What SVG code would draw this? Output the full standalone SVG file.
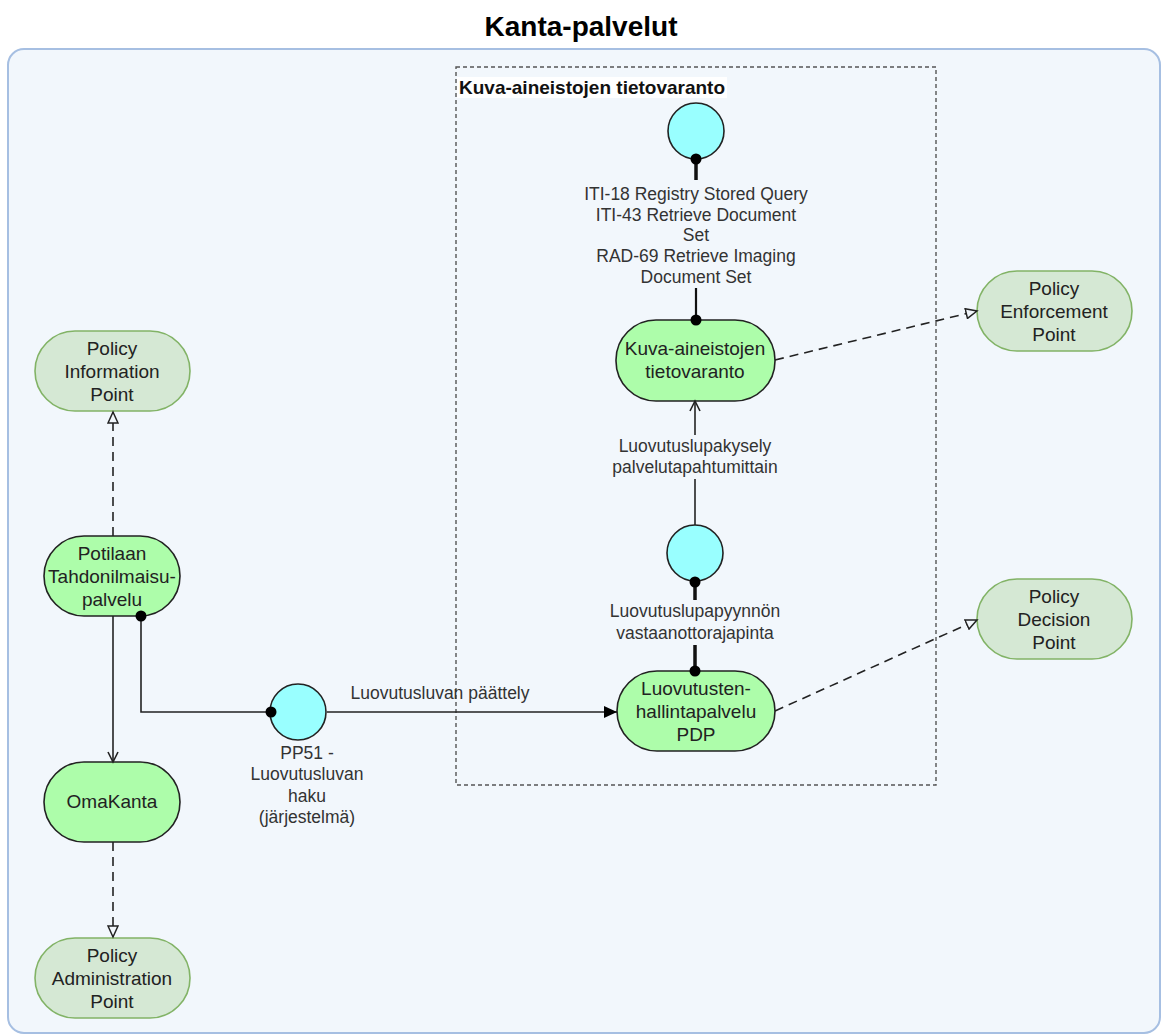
<svg xmlns="http://www.w3.org/2000/svg" width="1163" height="1034" viewBox="0 0 1163 1034">
<defs>
<style>
text{font-family:"Liberation Sans",Arial,Helvetica,sans-serif}
.node{fill:#adfdaa;stroke:#222;stroke-width:1.6}
.pol{fill:#d5e8d4;stroke:#82b366;stroke-width:1.6}
.if{fill:#99ffff;stroke:#222;stroke-width:1.6}
.nt{font-size:19px;fill:#222;text-anchor:middle}
.el{font-size:17.5px;fill:#333;text-anchor:middle}
.ln{stroke:#222;stroke-width:1.6;fill:none}
.thick{stroke:#111;stroke-width:3.5;fill:none}
.med{stroke:#111;stroke-width:2.2;fill:none}
.dash{stroke:#222;stroke-width:1.6;fill:none;stroke-dasharray:9 6}
.dot{fill:#000}
</style>
<marker id="tri" markerWidth="14" markerHeight="12" refX="12" refY="6" orient="auto" markerUnits="userSpaceOnUse"><path d="M1,1 L12,6 L1,11 Z" fill="#f2f7fc" stroke="#222" stroke-width="1.5"/></marker>
<marker id="open" markerWidth="14" markerHeight="12" refX="11" refY="6" orient="auto" markerUnits="userSpaceOnUse"><path d="M1,1 L11,6 L1,11" fill="none" stroke="#222" stroke-width="1.6"/></marker>
<marker id="blk" markerWidth="14" markerHeight="12" refX="13" refY="6" orient="auto" markerUnits="userSpaceOnUse"><path d="M0,0 L13,6 L0,12 Z" fill="#000"/></marker>
</defs>
<rect width="1163" height="1034" fill="#ffffff"/>
<text x="581" y="36" text-anchor="middle" font-size="28" font-weight="bold" fill="#000">Kanta-palvelut</text>
<rect id="container" x="8" y="49" width="1152" height="984" rx="16" fill="#f2f7fc" stroke="#a6bfe2" stroke-width="2"/>
<g id="group-kuva">
<rect x="456" y="67" width="480" height="718" fill="none" stroke="#555" stroke-width="1.4" stroke-dasharray="4 3"/>
<rect x="457" y="77" width="270" height="21" fill="#ffffff"/>
<text x="459" y="94" font-size="19" font-weight="bold" fill="#111">Kuva-aineistojen tietovaranto</text>
</g>
<g id="if-top"><circle class="if" cx="696" cy="131" r="28"/></g>
<g id="if-mid"><circle class="if" cx="695" cy="553" r="28"/></g>
<g id="if-pp51"><circle class="if" cx="298" cy="712" r="28"/></g>
<g id="kuva-node"><rect class="node" x="616" y="320" width="159" height="81" rx="40"/>
<text class="nt" x="695" y="355">Kuva-aineistojen</text><text class="nt" x="695" y="378">tietovaranto</text></g>
<g id="pdp-node"><rect class="node" x="617" y="671" width="158" height="80" rx="40"/>
<text class="nt" x="696" y="695">Luovutusten-</text><text class="nt" x="696" y="718">hallintapalvelu</text><text class="nt" x="696" y="741">PDP</text></g>
<g id="potilaan"><rect class="node" x="44" y="536" width="136" height="80" rx="40"/>
<text class="nt" x="112" y="560">Potilaan</text><text class="nt" x="112" y="583">Tahdonilmaisu-</text><text class="nt" x="112" y="606">palvelu</text></g>
<g id="omakanta"><rect class="node" x="44" y="762" width="136" height="80" rx="40"/>
<text class="nt" x="112" y="808">OmaKanta</text></g>
<g id="pip"><rect class="pol" x="35" y="331" width="155" height="80" rx="40"/>
<text class="nt" x="112" y="355">Policy</text><text class="nt" x="112" y="378">Information</text><text class="nt" x="112" y="401">Point</text></g>
<g id="pap"><rect class="pol" x="35" y="938" width="155" height="80" rx="40"/>
<text class="nt" x="112" y="962">Policy</text><text class="nt" x="112" y="985">Administration</text><text class="nt" x="112" y="1008">Point</text></g>
<g id="pep"><rect class="pol" x="977" y="271" width="155" height="80" rx="40"/>
<text class="nt" x="1054" y="295">Policy</text><text class="nt" x="1054" y="318">Enforcement</text><text class="nt" x="1054" y="341">Point</text></g>
<g id="pdpol"><rect class="pol" x="977" y="579" width="155" height="80" rx="40"/>
<text class="nt" x="1054" y="603">Policy</text><text class="nt" x="1054" y="626">Decision</text><text class="nt" x="1054" y="649">Point</text></g>
<g id="connectors">
<line class="thick" x1="696" y1="160" x2="696" y2="180"/>
<line class="med" x1="696" y1="288" x2="696" y2="320"/>
<circle class="dot" cx="696" cy="159" r="5.5"/>
<circle class="dot" cx="696" cy="320" r="5.5"/>
<text class="el" x="696" y="200">ITI-18 Registry Stored Query</text>
<text class="el" x="696" y="221">ITI-43 Retrieve Document</text>
<text class="el" x="696" y="241">Set</text>
<text class="el" x="696" y="262">RAD-69 Retrieve Imaging</text>
<text class="el" x="696" y="283">Document Set</text>
<path class="dash" d="M775,360 L977,311" marker-end="url(#tri)"/>
<line class="ln" x1="695" y1="525" x2="695" y2="479"/>
<line class="ln" x1="695" y1="435" x2="695" y2="401" marker-end="url(#open)"/>
<text class="el" x="695" y="452">Luovutuslupakysely</text>
<text class="el" x="695" y="473">palvelutapahtumittain</text>
<line class="thick" x1="695" y1="582" x2="695" y2="600"/>
<line class="thick" x1="695" y1="645" x2="695" y2="671"/>
<circle class="dot" cx="695" cy="582" r="5.5"/>
<circle class="dot" cx="695" cy="671" r="5.5"/>
<text class="el" x="695" y="617">Luovutuslupapyynnön</text>
<text class="el" x="695" y="639">vastaanottorajapinta</text>
<path class="dash" d="M775,711 L977,620" marker-end="url(#tri)"/>
<path class="dash" d="M113,536 L113,412" marker-end="url(#tri)"/>
<path class="ln" d="M113,616 L113,762" marker-end="url(#open)"/>
<path class="dash" d="M113,842 L113,937" marker-end="url(#tri)"/>
<path class="ln" d="M141,616 V712 H270"/>
<circle class="dot" cx="141" cy="616" r="5.5"/>
<circle class="dot" cx="271" cy="712" r="5.5"/>
<path class="ln" d="M327,712 H617" marker-end="url(#blk)"/>
<text class="el" x="440" y="699">Luovutusluvan päättely</text>
<text class="el" x="307" y="759">PP51 -</text>
<text class="el" x="307" y="780">Luovutusluvan</text>
<text class="el" x="307" y="802">haku</text>
<text class="el" x="307" y="823">(järjestelmä)</text>
</g>
</svg>
